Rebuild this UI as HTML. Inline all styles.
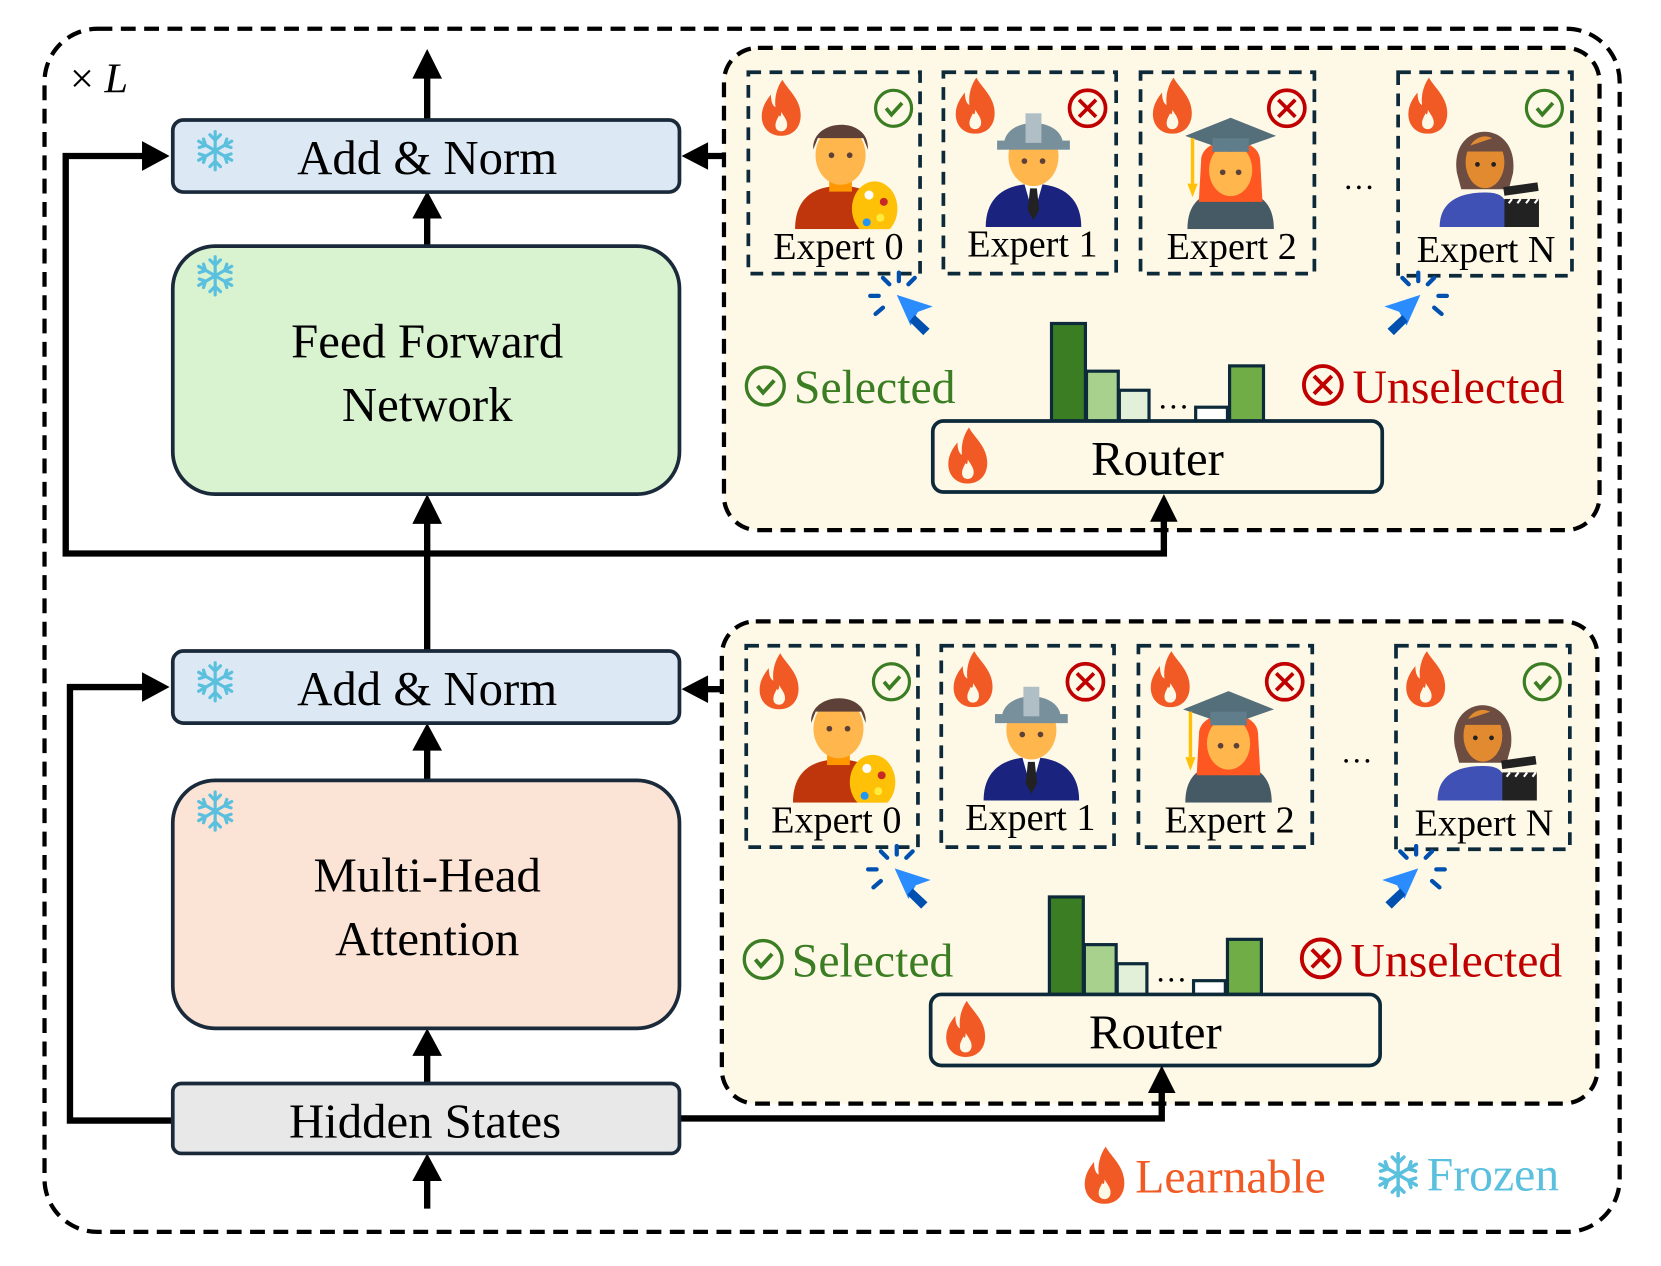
<!DOCTYPE html>
<html><head><meta charset="utf-8"><style>html,body{margin:0;padding:0;background:#fff}svg{display:block}text{font-family:"Liberation Serif",serif}</style></head>
<body>
<svg width="1661" height="1266" viewBox="0 0 1567 1194" xmlns="http://www.w3.org/2000/svg" font-family="Liberation Serif, serif">
<defs>
<symbol id="fire" viewBox="0 0 40 50"><path d="M21 1 C26 10 37 18 37 32 C37 44 29 50 20 50 C10 50 3 43 3 33 C3 25 7 19 11 14 C11 21 13 24 15 25 C14 17 16 8 21 1 Z" fill="#f15a24"/><path d="M20 29 C23 34 26 37 25 42 C24 45 22 46 20 46 C17 46 15 44 15 41 C15 37 17 35 18 32 C19 34 20 33 20 29Z" fill="#fef8e7"/></symbol>
<symbol id="snow" viewBox="-20 -20 40 40"><g stroke="#5bc0de" stroke-width="3" stroke-linecap="round" fill="none"><line x1="0" y1="-18" x2="0" y2="18"/><line x1="-15.6" y1="-9" x2="15.6" y2="9"/><line x1="-15.6" y1="9" x2="15.6" y2="-9"/><path d="M-5 -15 L0 -10 L5 -15 M-5 15 L0 10 L5 15 M-15 -3 L-9 -5 L-11 -11 M15 3 L9 5 L11 11 M-15 3 L-9 5 L-11 11 M15 -3 L9 -5 L11 -11"/></g></symbol>
<symbol id="chk" viewBox="-20 -20 40 40"><circle r="17" fill="none" stroke="#3a7d22" stroke-width="3"/><path d="M-7 0 L-2 6 L8 -5" fill="none" stroke="#3a7d22" stroke-width="3.5"/></symbol>
<symbol id="xx" viewBox="-20 -20 40 40"><circle r="17" fill="none" stroke="#c00000" stroke-width="3.5"/><path d="M-8 -8 L8 8 M8 -8 L-8 8" stroke="#c00000" stroke-width="3.5"/></symbol>
<symbol id="cur" viewBox="-40 -40 80 80"><g stroke="#0050b0" stroke-width="4" stroke-linecap="round"><line x1="-5" y1="-38" x2="-5" y2="-30"/><line x1="-20" y1="-33" x2="-14" y2="-27"/><line x1="10" y1="-33" x2="4" y2="-27"/><line x1="-32" y1="-16" x2="-24" y2="-16"/><line x1="-27" y1="1" x2="-20" y2="-5"/></g><path d="M-7 -17 L27 -6 L13 -1 L6 12 Z" fill="#2a8cff"/><path d="M10 2 L24 15 L18 21 L5 8Z" fill="#0050b0"/></symbol>
<symbol id="cur2" viewBox="-40 -40 80 80"><g stroke="#0050b0" stroke-width="4" stroke-linecap="round"><line x1="5" y1="-38" x2="5" y2="-30"/><line x1="20" y1="-33" x2="14" y2="-27"/><line x1="-10" y1="-33" x2="-4" y2="-27"/><line x1="32" y1="-16" x2="24" y2="-16"/><line x1="27" y1="1" x2="20" y2="-5"/></g><path d="M7 -17 L-27 -6 L-13 -1 L-6 12 Z" fill="#2a8cff"/><path d="M-10 2 L-24 15 L-18 21 L-5 8Z" fill="#0050b0"/></symbol>
<symbol id="p0" viewBox="0 0 100 110"><path d="M10 110 C10 80 30 72 50 72 C70 72 90 80 90 110Z" fill="#bf360c"/><rect x="40" y="55" width="20" height="22" fill="#ff9800"/><ellipse cx="50" cy="45" rx="22" ry="26" fill="#ffb74d"/><path d="M26 40 C24 12 76 10 74 40 L70 30 L30 30Z" fill="#5d4037"/><circle cx="42" cy="45" r="2.5" fill="#5d4037"/><circle cx="58" cy="45" r="2.5" fill="#5d4037"/><ellipse cx="80" cy="92" rx="20" ry="24" fill="#ffc107"/><circle cx="75" cy="80" r="4" fill="#fff"/><circle cx="85" cy="100" r="3.5" fill="#ffeb3b"/><circle cx="73" cy="104" r="3.5" fill="#2196f3"/><circle cx="88" cy="86" r="3.5" fill="#c62828"/></symbol>
<symbol id="p1" viewBox="0 0 100 110"><path d="M8 110 C8 80 30 72 50 72 C70 72 92 80 92 110Z" fill="#1a237e"/><path d="M42 72 L58 72 L50 100Z" fill="#fff"/><path d="M47 76 L53 76 L55 95 L50 104 L45 95Z" fill="#222"/><ellipse cx="50" cy="48" rx="22" ry="26" fill="#ffb74d"/><path d="M24 38 C24 12 76 12 76 38Z" fill="#78909c"/><rect x="18" y="34" width="64" height="8" fill="#78909c"/><rect x="43" y="10" width="14" height="26" fill="#b0bec5"/><circle cx="42" cy="52" r="2.5" fill="#5d4037"/><circle cx="58" cy="52" r="2.5" fill="#5d4037"/></symbol>
<symbol id="p2" viewBox="0 0 100 110"><path d="M12 110 C12 82 30 76 50 76 C70 76 88 82 88 110Z" fill="#455a64"/><path d="M24 50 C24 26 76 26 76 50 L78 86 L22 86Z" fill="#ff5722"/><ellipse cx="50" cy="58" rx="19" ry="23" fill="#ffb74d"/><path d="M10 28 L50 12 L90 28 L50 42Z" fill="#546e7a"/><rect x="34" y="30" width="32" height="12" fill="#607d8b"/><rect x="15" y="30" width="3" height="40" fill="#ffc107"/><path d="M12 70 L21 70 L16.5 82Z" fill="#ffc107"/><circle cx="43" cy="60" r="2.5" fill="#5d4037"/><circle cx="57" cy="60" r="2.5" fill="#5d4037"/></symbol>
<symbol id="pn" viewBox="0 0 100 110"><path d="M22 60 C14 10 80 8 74 60 L70 75 L26 75Z" fill="#6d4c41"/><path d="M6 110 C6 84 28 78 48 78 C66 78 70 84 70 110Z" fill="#3f51b5"/><ellipse cx="48" cy="50" rx="18" ry="24" fill="#e18a2f"/><path d="M30 36 L60 26 L66 40 L30 40Z" fill="#6d4c41"/><circle cx="41" cy="52" r="2.2" fill="#222"/><circle cx="56" cy="52" r="2.2" fill="#222"/><rect x="66" y="84" width="32" height="26" fill="#222"/><rect x="66" y="73" width="32" height="8" fill="#222" transform="rotate(-8 66 81)"/><g stroke="#fff" stroke-width="2"><line x1="70" y1="88" x2="73" y2="84"/><line x1="78" y1="88" x2="81" y2="84"/><line x1="86" y1="88" x2="89" y2="84"/><line x1="94" y1="88" x2="97" y2="84"/></g></symbol>
</defs>
<rect width="1567" height="1194" fill="#fff"/>
<rect x="42" y="27" width="1486" height="1135" rx="50" fill="none" stroke="#000" stroke-width="4" stroke-dasharray="14 8"/>
<text x="66" y="87" font-size="40">× <tspan font-style="italic">L</tspan></text>

<g id="panel">
<rect x="683" y="45" width="826" height="455" rx="32" fill="#fef8e7" stroke="#000" stroke-width="4" stroke-dasharray="14 8"/>
<g fill="none" stroke="#0d2a3a" stroke-width="3.5" stroke-dasharray="12 8">
<rect x="706" y="68" width="162" height="190"/><rect x="890" y="68" width="163" height="190"/><rect x="1076" y="68" width="164" height="190"/><rect x="1319" y="68" width="164" height="192"/></g>
<use href="#fire" x="715" y="74" width="44" height="54"/><use href="#fire" x="898" y="72" width="44" height="54"/><use href="#fire" x="1084" y="72" width="44" height="54"/><use href="#fire" x="1325" y="72" width="44" height="54"/>
<use href="#chk" x="823" y="82" width="40" height="40"/><use href="#xx" x="1006" y="82" width="40" height="40"/><use href="#xx" x="1194" y="82" width="40" height="40"/><use href="#chk" x="1437" y="82" width="40" height="40"/>
<use href="#p0" x="737" y="98" width="112" height="118"/><use href="#p1" x="919" y="96" width="112" height="118"/><use href="#p2" x="1105" y="98" width="112" height="118"/><use href="#pn" x="1347" y="102" width="112" height="112"/>
<g font-size="36" text-anchor="middle" fill="#000"><text x="791" y="244">Expert 0</text><text x="974" y="242">Expert 1</text><text x="1162" y="244">Expert 2</text><text x="1402" y="247">Expert N</text></g>
<text x="1282" y="178" font-size="30" text-anchor="middle">…</text>
<use href="#cur" x="813" y="255" width="80" height="80"/><use href="#cur2" x="1293" y="255" width="80" height="80"/>
<use href="#chk" x="701" y="343" width="42" height="42"/><text x="749" y="380" font-size="45" fill="#3a7d22">Selected</text>
<use href="#xx" x="1227" y="342" width="42" height="42"/><text x="1276" y="380" font-size="45" fill="#c00000">Unselected</text>
<g stroke="#0d2a3a" stroke-width="3"><rect x="992" y="305" width="32" height="92" fill="#3a7d22"/><rect x="1025" y="350" width="30" height="47" fill="#a9d18e"/><rect x="1056" y="368" width="28" height="29" fill="#e2efd9"/><rect x="1128" y="384" width="30" height="13" fill="#fff"/><rect x="1160" y="345" width="32" height="52" fill="#70ad47"/></g>
<text x="1107" y="385" font-size="30" text-anchor="middle">…</text>
<rect x="880" y="397" width="424" height="67" rx="10" fill="#fef8e7" stroke="#0d2a3a" stroke-width="3.5"/>
<use href="#fire" x="891" y="402" width="44" height="54"/>
<text x="1092" y="448" font-size="46" text-anchor="middle">Router</text>
</g>
<use href="#panel" transform="translate(-2 541)"/>

<g stroke="#000" stroke-width="6" fill="none">
<line x1="403" y1="113" x2="403" y2="68"/>
<line x1="403" y1="232" x2="403" y2="200"/>
<line x1="403" y1="614" x2="403" y2="490"/>
<line x1="403" y1="736" x2="403" y2="702"/>
<line x1="403" y1="1022" x2="403" y2="992"/>
<line x1="403" y1="1140" x2="403" y2="1110"/>
<polyline points="403,522 62,522 62,147 138,147"/>
<polyline points="403,522 1098,522 1098,490"/>
<polyline points="163,1057 66,1057 66,648 138,648"/>
<polyline points="641,1055 1096,1055 1096,1028"/>
<line x1="683" y1="147" x2="665" y2="147"/>
<line x1="681" y1="650" x2="665" y2="650"/>
</g>
<g fill="#000">
<path d="M389 74 L403 46 L417 74Z"/><path d="M389 206 L403 180 L417 206Z"/><path d="M389 494 L403 466 L417 494Z"/>
<path d="M389 708 L403 682 L417 708Z"/><path d="M389 996 L403 970 L417 996Z"/><path d="M389 1114 L403 1088 L417 1114Z"/>
<path d="M134 133 L160 147 L134 161Z"/><path d="M134 634 L160 648 L134 662Z"/>
<path d="M1085 492 L1098 466 L1111 492Z"/><path d="M1083 1031 L1096 1005 L1109 1031Z"/>
<path d="M668 134 L643 147 L668 160Z"/><path d="M668 637 L643 650 L668 663Z"/>
</g>
<g stroke="#1a2a3a" stroke-width="3.5">
<rect x="163" y="113" width="478" height="68" rx="10" fill="#dce9f5"/>
<rect x="163" y="232" width="478" height="234" rx="40" fill="#d9f2d0"/>
<rect x="163" y="614" width="478" height="68" rx="10" fill="#dce9f5"/>
<rect x="163" y="736" width="478" height="234" rx="40" fill="#fbe3d6"/>
<rect x="163" y="1022" width="478" height="66" rx="8" fill="#e8e8e8"/>
</g>
<use href="#snow" x="183" y="122" width="40" height="40"/><use href="#snow" x="183" y="240" width="40" height="40"/>
<use href="#snow" x="183" y="623" width="40" height="40"/><use href="#snow" x="183" y="745" width="40" height="40"/>
<g font-size="46" text-anchor="middle" fill="#000">
<text x="403" y="164">Add &amp; Norm</text>
<text x="403" y="337">Feed Forward</text><text x="403" y="397">Network</text>
<text x="403" y="665">Add &amp; Norm</text>
<text x="403" y="841">Multi-Head</text><text x="403" y="901">Attention</text>
<text x="401" y="1073">Hidden States</text>
</g>
<use href="#fire" x="1020" y="1080" width="44" height="56"/>
<text x="1071" y="1125" font-size="45" fill="#f15a24">Learnable</text>
<use href="#snow" x="1297" y="1086" width="44" height="44"/>
<text x="1346" y="1123" font-size="45" fill="#5bc0de">Frozen</text>
</svg>
</body></html>
